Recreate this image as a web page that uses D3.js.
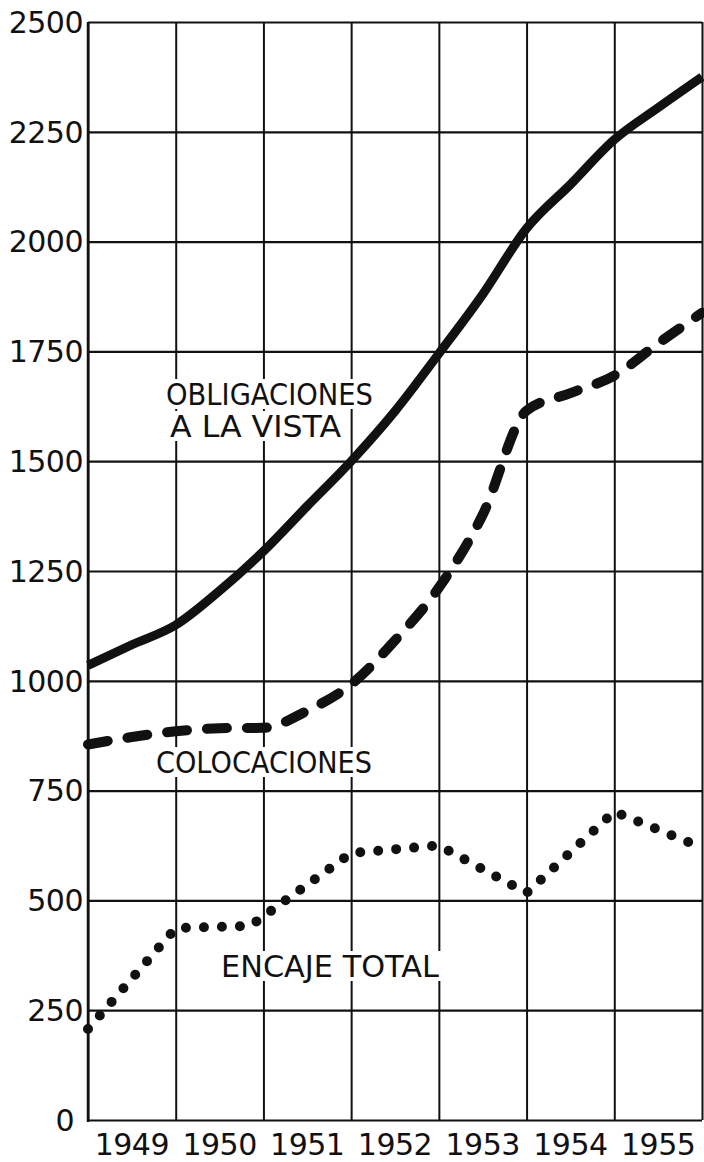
<!DOCTYPE html>
<html>
<head>
<meta charset="utf-8">
<script src="https://cdn.jsdelivr.net/npm/d3@7"></script>
<style>
  body { margin: 0; background: #fff; }
  text { font-family: "DejaVu Sans", sans-serif; fill: #111; }
</style>
</head>
<body>
<svg id="chart" width="704" height="1162"></svg>
<script>
// years shown under the columns and the y tick values
const years = ["1949", "1950", "1951", "1952", "1953", "1954", "1955"];
const yTicks = [0, 250, 500, 750, 1000, 1250, 1500, 1750, 2000, 2250, 2500];

// Obligaciones a la vista (solid)
const obligT = [1949, 1949.5, 1950, 1950.5, 1951, 1951.5, 1952, 1952.5, 1953, 1953.5, 1954, 1954.5, 1955, 1955.5, 1956];
const obligV = [1035, 1082, 1127, 1205, 1295, 1398, 1500, 1614, 1745, 1880, 2030, 2130, 2232, 2305, 2375];

// Colocaciones (dashed)
const colocT = [1949, 1949.5, 1950, 1950.5, 1951, 1951.5, 1952, 1952.5, 1953, 1953.5, 1954, 1954.5, 1955, 1955.5, 1956];
const colocV = [855, 872, 885, 892, 893, 932, 992, 1092, 1212, 1378, 1615, 1655, 1695, 1768, 1838];

// Encaje total (dotted)
const encajeT = [1949, 1950, 1950.85, 1952, 1953, 1954, 1955, 1956];
const encajeV = [207, 437, 442, 608, 625, 517, 702, 620];

const svg = d3.select("#chart");
const margins = { top: 22, right: 2, bottom: 42, left: 88 };
const W = +svg.attr("width"), H = +svg.attr("height");

const x = d3.scaleLinear().domain([1949, 1956]).range([margins.left, W - margins.right]);
const y = d3.scaleLinear().domain([0, 2500]).range([H - margins.bottom, margins.top]);

// horizontal gridlines
svg.append("g")
  .attr("transform", `translate(${margins.left},0)`)
  .call(d3.axisLeft(y).tickValues(yTicks).tickSize(-(W - margins.right - margins.left)).tickFormat(""))
  .call(g => g.select(".domain").remove())
  .call(g => g.selectAll("line").attr("stroke", "#111").attr("stroke-width", 2.2));

// vertical gridlines
svg.append("g")
  .attr("transform", `translate(0,${y(0)})`)
  .call(d3.axisBottom(x).tickValues(d3.range(1949, 1957)).tickSize(-(y(0) - y(2500))).tickSizeOuter(0).tickFormat(""))
  .call(g => g.select(".domain").remove())
  .call(g => g.selectAll("line").attr("stroke", "#111").attr("stroke-width", 2));

// y labels
svg.append("g").selectAll("text")
  .data(yTicks)
  .join("text")
  .attr("x", d => d === 0 ? 74 : 83)
  .attr("y", d => Math.max(y(d), 21))
  .attr("dy", "0.36em")
  .attr("text-anchor", "end")
  .attr("font-size", 30)
  .attr("letter-spacing", -0.5)
  .text(d => d);

// year labels
svg.append("g").selectAll("text")
  .data(years)
  .join("text")
  .attr("x", d => x(+d + 0.5))
  .attr("y", 1155)
  .attr("text-anchor", "middle")
  .attr("font-size", 30)
  .attr("letter-spacing", -0.5)
  .text(d => d);

const line = d3.line().x(d => x(d[0])).y(d => y(d[1])).curve(d3.curveMonotoneX);
const pts = (t, v) => t.map((d, i) => [d, v[i]]);

// labels with white knockout behind them
const labels = [
  { text: "OBLIGACIONES", x: 166, y: 405, w: 207 },
  { text: "A LA VISTA", x: 170, y: 437, w: 171 },
  { text: "COLOCACIONES", x: 156, y: 773, w: 216 },
  { text: "ENCAJE TOTAL", x: 221, y: 977, w: 218 }
];
const lab = svg.append("g");
labels.forEach(l => {
  const bg = lab.append("rect").attr("fill", "#fff");
  lab.append("text")
    .attr("x", l.x).attr("y", l.y)
    .attr("font-size", 30)
    .attr("textLength", l.w)
    .attr("lengthAdjust", "spacingAndGlyphs")
    .text(l.text);
  bg.attr("x", l.x - 4).attr("y", l.y - 26).attr("width", l.w + 8).attr("height", 30);
});

svg.append("path")
  .datum(pts(obligT, obligV))
  .attr("d", line)
  .attr("fill", "none")
  .attr("stroke", "#111")
  .attr("stroke-width", 9);

svg.append("path")
  .datum(pts(colocT, colocV))
  .attr("d", line)
  .attr("fill", "none")
  .attr("stroke", "#111")
  .attr("stroke-width", 10)
  .attr("stroke-linecap", "round")
  .attr("stroke-dasharray", "20 20");

svg.append("path")
  .datum(pts(encajeT, encajeV))
  .attr("d", d3.line().x(d => x(d[0])).y(d => y(d[1])))
  .attr("fill", "none")
  .attr("stroke", "#111")
  .attr("stroke-width", 10)
  .attr("stroke-linecap", "round")
  .attr("stroke-dasharray", "0 18");

// left frame line on top
svg.append("line")
  .attr("x1", margins.left).attr("x2", margins.left)
  .attr("y1", y(2500)).attr("y2", y(0) + 2)
  .attr("stroke", "#111").attr("stroke-width", 2.5);
</script>
</body>
</html>
